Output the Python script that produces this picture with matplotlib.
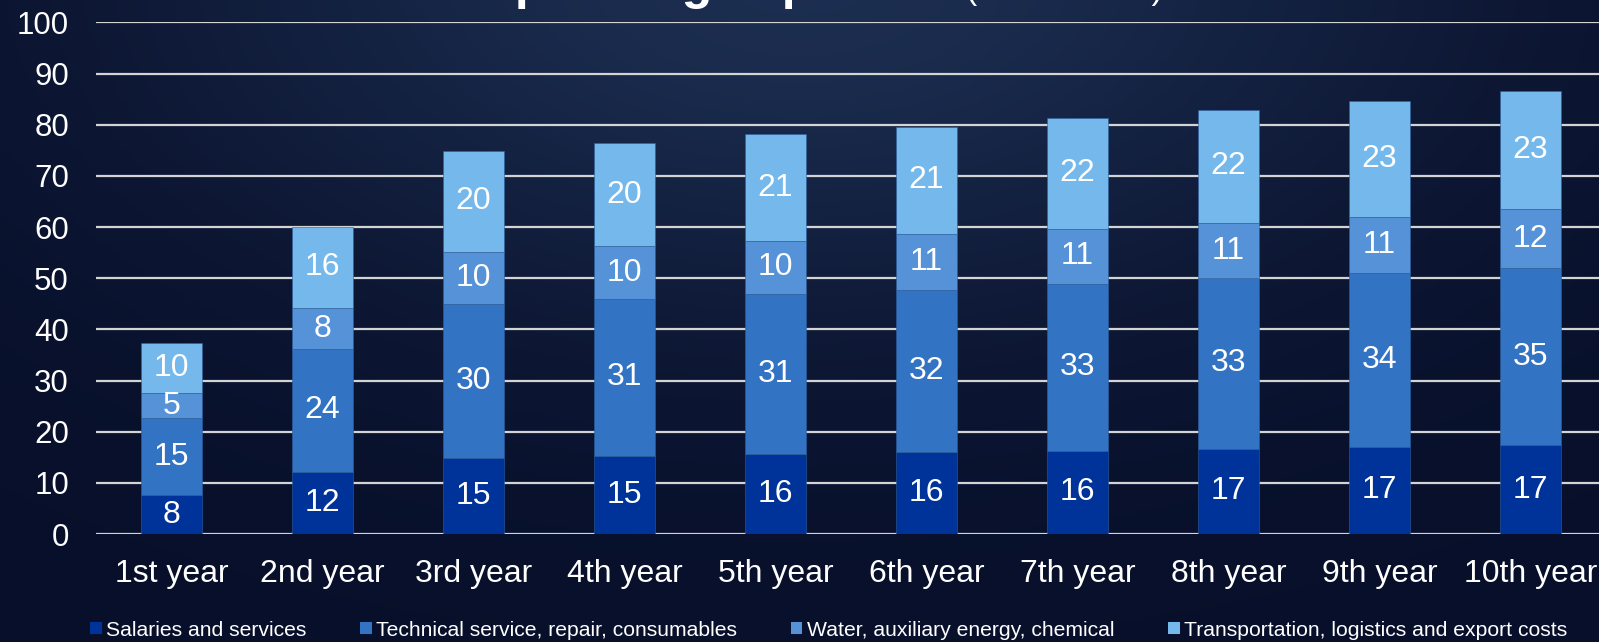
"""
Operating expenses per year, stacked bar chart on a dark slide background.
"""

import matplotlib.pyplot as plt
import numpy as np
from matplotlib.patches import Patch

plt.rcParams['font.family'] = ['Liberation Sans', 'DejaVu Sans']

years = ['1st year', '2nd year', '3rd year', '4th year', '5th year',
         '6th year', '7th year', '8th year', '9th year', '10th year']

salaries = [7.6, 12.2, 14.9, 15.3, 15.7, 16.1, 16.3, 16.7, 17.1, 17.3]
technical = [15.0, 23.9, 30.1, 30.7, 31.2, 31.6, 32.6, 33.3, 33.9, 34.6]
water = [5.0, 8.1, 10.2, 10.2, 10.4, 10.9, 10.8, 10.8, 11.0, 11.6]
transport = [9.8, 15.8, 19.7, 20.3, 20.8, 21.0, 21.6, 22.1, 22.6, 23.0]

series_names = ['Salaries and services',
                'Technical service, repair, consumables',
                'Water, auxiliary energy, chemical',
                'Transportation, logistics and export costs']
series_values = [salaries, technical, water, transport]
colors = ['#003399', '#3273C4', '#5592D8', '#74B8EC']

W, H = 1599, 642
fig = plt.figure(figsize=(W / 100, H / 100), dpi=100)

# dark navy background with a soft lighter patch near the top middle
bg = fig.add_axes([0, 0, 1, 1], zorder=-10)
yy, xx = np.mgrid[0:1:200j, 0:1:400j]
glow = np.exp(-(((xx - 0.50) / 0.40) ** 2 + ((yy - 0.0) / 0.55) ** 2))
base = np.array([0.030, 0.060, 0.165])
hi = np.array([0.110, 0.180, 0.315])
img = base + (hi - base) * glow[..., None] * (1 - 0.35 * yy[..., None])
bg.imshow(img, aspect='auto', extent=[0, 1, 0, 1], origin='upper')
bg.axis('off')

ax = fig.add_axes([96 / W, (H - 534) / H, 1510 / W, (534 - 22.4) / H])
ax.set_facecolor('none')

x = np.arange(len(years))
bottom = np.zeros(len(years))
for name, vals, col in zip(series_names, series_values, colors):
    vals = np.array(vals)
    ax.bar(x, vals, 0.4, bottom=bottom, color=col, edgecolor='#2d5f9e',
           linewidth=0.4, zorder=3, label=name)
    for xi, b, v in zip(x, bottom, vals):
        ax.text(xi, b + v / 2, f'{round(v):d}', ha='center', va='center',
                color='white', fontsize=23, zorder=4)
    bottom += vals

ax.set_xlim(-0.5, len(years) - 0.5)
ax.set_ylim(0, 100)
ax.set_yticks(range(0, 101, 10))
ax.set_xticks(x)
ax.set_xticklabels(years)
ax.tick_params(axis='y', length=0, pad=19.5, labelsize=22.5, colors='white')
ax.tick_params(axis='x', length=0, pad=18, labelsize=23, colors='white')
ax.yaxis.grid(True, color='#d4d4d4', linewidth=1.6, zorder=1)
ax.set_axisbelow(True)
for s in ax.spines.values():
    s.set_visible(False)

# title sits mostly above the visible area, only its lower part shows
fig.text(476 / W, 1 + 1 / H, 'Operating expenses', fontsize=36,
         fontweight='bold', color='white', ha='left', va='baseline')
fig.text(966 / W, 1 + 1 / H, '(million EUR)', fontsize=24,
         color='white', ha='left', va='baseline')

handles = [Patch(facecolor=c, edgecolor='none') for c in colors]
fig.legend(handles, series_names, loc='center',
           bbox_to_anchor=(0.5 + 29 / W, (H - 630) / H),
           ncol=4, frameon=False, fontsize=15.2, labelcolor='white',
           handlelength=0.55, handleheight=0.55, handletextpad=0.2,
           columnspacing=2.55, borderaxespad=0)

fig.savefig('out.png', dpi=100)
